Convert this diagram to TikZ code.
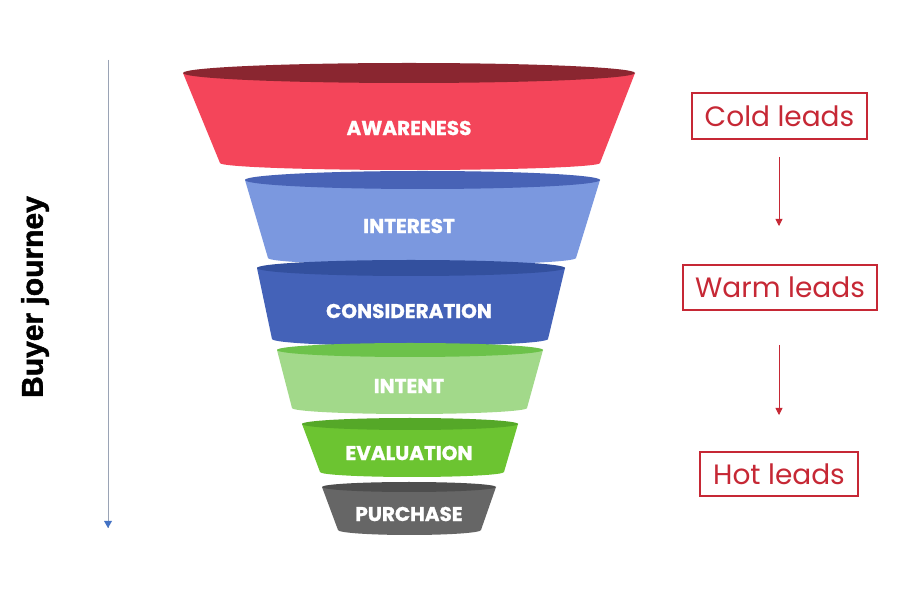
\documentclass[tikz,border=0pt]{standalone}
\usepackage{fontspec}
\setmainfont{Poppins}
\newfontfamily\arialbold{Liberation Sans Bold}[FakeBold=1.6]
\newfontfamily\stagefont{Poppins Bold}[FakeBold=1]
\usetikzlibrary{arrows.meta}
\definecolor{leadred}{HTML}{C62835}
\definecolor{awbody}{HTML}{F4455A}
\definecolor{awtop}{HTML}{8A2630}
\definecolor{inbody}{HTML}{7B98DF}
\definecolor{intop}{HTML}{4863B6}
\definecolor{cobody}{HTML}{4462B8}
\definecolor{cotop}{HTML}{33509E}
\definecolor{itbody}{HTML}{A2D98A}
\definecolor{ittop}{HTML}{6CC24A}
\definecolor{evbody}{HTML}{6CC431}
\definecolor{evtop}{HTML}{55A828}
\definecolor{pubody}{HTML}{666666}
\definecolor{putop}{HTML}{4E4E4E}
\definecolor{axisgray}{HTML}{9AA3B5}
\definecolor{axisblue}{HTML}{4472C4}
\tikzset{
  stagetext/.style={text=white, font=\stagefont\fontsize{20}{22}\selectfont, inner sep=0pt},
  leadbox/.style={draw=leadred, line width=1.3pt, text=leadred, font=\fontsize{28}{30}\selectfont, inner sep=0pt},
  leadarrow/.style={leadred, line width=0.8pt, -{Triangle[length=7pt,width=7pt]}},
}
% \funnelseg{prefix}{ytop}{xL}{xR}{ry}{ybot}{xLb}{xRb}{ryb}
\newcommand{\funnelseg}[9]{%
  \pgfmathsetmacro{\cx}{(#3+#4)/2}%
  \pgfmathsetmacro{\ra}{(#4-#3)/2}%
  \pgfmathsetmacro{\rb}{(#8-#7)/2}%
  \fill[#1body] (#3,600-#2) -- (#7,600-#6)
     arc[start angle=180,end angle=360,x radius=\rb pt,y radius=#9 pt]
     -- (#4,600-#2) -- cycle;
  \fill[#1top] (\cx,600-#2) ellipse[x radius=\ra pt,y radius=#5 pt];
}
\begin{document}
\begin{tikzpicture}[x=1pt,y=1pt]
\useasboundingbox (0,0) rectangle (900,600);
\fill[white] (0,0) rectangle (900,600);
% funnel
\funnelseg{aw}{73}{183}{635}{10}{163}{220}{600}{7}
\funnelseg{in}{180}{245}{600}{9}{258}{268}{576}{7}
\funnelseg{co}{268}{257}{565}{8}{339}{272}{548}{7}
\funnelseg{it}{350}{277}{543}{7}{408}{292}{527}{6}
\funnelseg{ev}{424}{302}{518}{6}{472}{320}{504}{5}
\funnelseg{pu}{487}{322}{496}{5}{530}{338}{481}{5}
\node[stagetext] (aw) at (409,600-128) {AWARENESS};
\node[stagetext] (in) at (409,600-226) {INTEREST};
\node[stagetext] (co) at (409,600-311) {CONSIDERATION};
\node[stagetext] (it) at (409,600-386) {INTENT};
\node[stagetext] (ev) at (409,600-453) {EVALUATION};
\node[stagetext] (pu) at (409,600-514) {PURCHASE};
% buyer journey axis
\coordinate (axtop) at (108,600-60);
\coordinate (axbot) at (108,600-528);
\draw[axisgray, line width=0.8pt] (axtop) -- (axbot);
\fill[axisblue] (axbot) -- ++(-4,7) -- ++(8,0) -- cycle;
\node[rotate=90, font=\arialbold\fontsize{30}{32}\selectfont] (bj) at (35,600-297) {Buyer journey};
% leads
\node[leadbox, minimum width=175pt, minimum height=46pt] (cold) at (779.5,600-116) {Cold leads};
\node[leadbox, minimum width=194pt, minimum height=45pt] (warm) at (780,600-287.5) {Warm leads};
\node[leadbox, minimum width=158pt, minimum height=44pt] (hot) at (779,600-474) {Hot leads};
\coordinate (a1s) at (779,600-157);
\coordinate (a1e) at (779,600-226);
\coordinate (a2s) at (779,600-345);
\coordinate (a2e) at (779,600-415);
\draw[leadarrow] (a1s) -- (a1e);
\draw[leadarrow] (a2s) -- (a2e);
\end{tikzpicture}
\end{document}
